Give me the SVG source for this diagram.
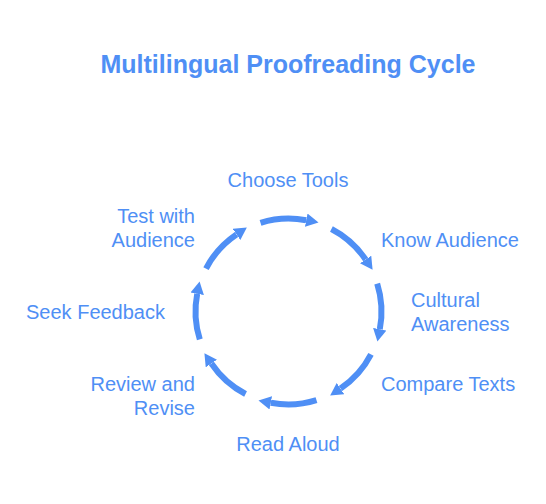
<svg xmlns="http://www.w3.org/2000/svg" width="546" height="504" viewBox="0 0 546 504">
<defs>
<style>
.t{font-family:"Liberation Sans",Arial,sans-serif;font-size:20px;fill:#4f8ff5}
.title{font-family:"Liberation Sans",Arial,sans-serif;font-size:25px;font-weight:bold;fill:#4f8ff5}
.arc{fill:none;stroke:#4f8ff5;stroke-width:6;marker-end:url(#ah)}
</style>
<marker id="ah" markerUnits="userSpaceOnUse" viewBox="0 -7 14 14" refX="0" refY="0" markerWidth="14" markerHeight="14" orient="auto">
<path d="M0,-6.8 L12.5,0 L0,6.8 Z" fill="#4f8ff5"/>
</marker>
</defs>
<rect width="546" height="504" fill="#ffffff"/>
<text class="title" x="288" y="73" text-anchor="middle">Multilingual Proofreading Cycle</text>
<g id="connectors">
<path class="arc" d="M260.53,222.81 A93,93 0 0 1 306.24,220.21"/>
<path class="arc" d="M331.44,229.01 A93,93 0 0 1 365.60,259.49"/>
<path class="arc" d="M377.19,283.53 A93,93 0 0 1 379.79,329.24"/>
<path class="arc" d="M370.99,354.44 A93,93 0 0 1 340.51,388.60"/>
<path class="arc" d="M316.47,400.19 A93,93 0 0 1 270.76,402.79"/>
<path class="arc" d="M245.56,393.99 A93,93 0 0 1 211.40,363.51"/>
<path class="arc" d="M199.81,339.47 A93,93 0 0 1 197.21,293.76"/>
<path class="arc" d="M206.01,268.56 A93,93 0 0 1 236.49,234.40"/>
</g>
<g id="choose-tools"><text class="t" x="288" y="186.5" text-anchor="middle">Choose Tools</text></g>
<g id="know-audience"><text class="t" x="381" y="246.5">Know Audience</text></g>
<g id="cultural-awareness"><text class="t" x="411" y="306.5">Cultural</text><text class="t" x="411" y="330.5">Awareness</text></g>
<g id="compare-texts"><text class="t" x="381" y="390.5">Compare Texts</text></g>
<g id="read-aloud"><text class="t" x="288" y="450.5" text-anchor="middle">Read Aloud</text></g>
<g id="review-revise"><text class="t" x="195" y="390.5" text-anchor="end">Review and</text><text class="t" x="195" y="414.5" text-anchor="end">Revise</text></g>
<g id="seek-feedback"><text class="t" x="165" y="318.5" text-anchor="end">Seek Feedback</text></g>
<g id="test-audience"><text class="t" x="195" y="222.5" text-anchor="end">Test with</text><text class="t" x="195" y="246.5" text-anchor="end">Audience</text></g>
</svg>
